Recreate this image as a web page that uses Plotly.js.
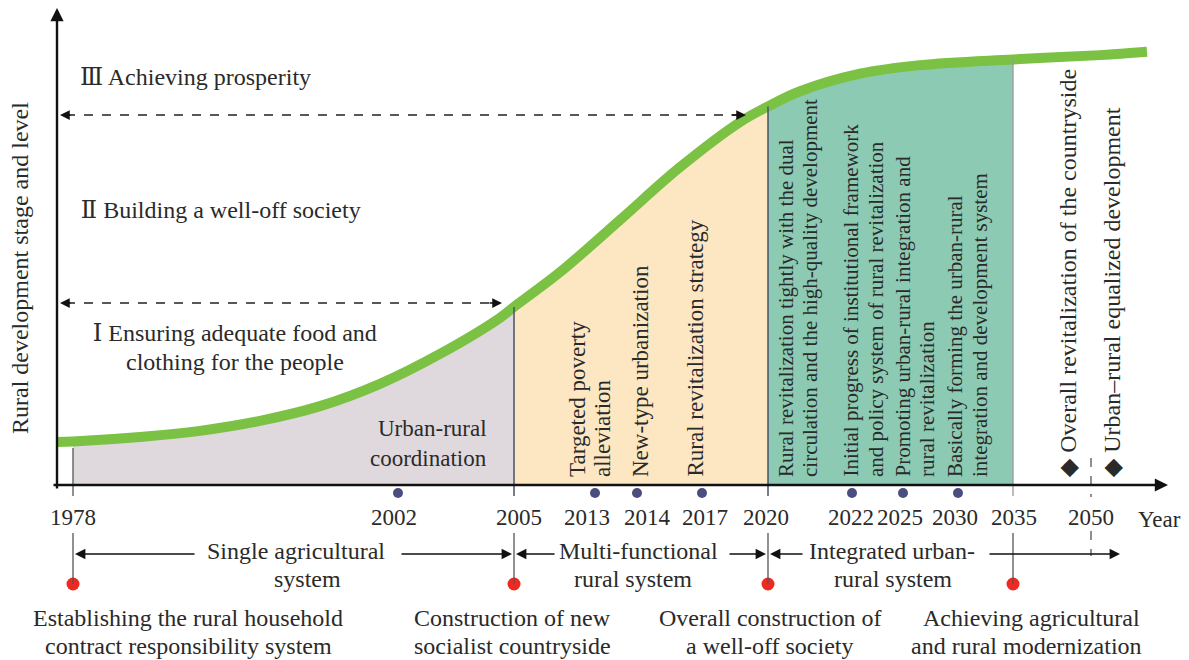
<!DOCTYPE html>
<html><head><meta charset="utf-8">
<script src="https://cdn.plot.ly/plotly-3.0.1.min.js"></script>
<style>html,body{margin:0;padding:0;background:#fff}#chart{width:1189px;height:660px}
#chart svg text{font-family:"Liberation Serif","Times New Roman",Times,"DejaVu Serif",serif !important;}</style>
</head><body><div id="chart"></div>
<script>
// ---- DATA (positions on the non-linear timeline axis, levels in 0-100 "development level") ----
const years        = ['1978','2002','2005','2013','2014','2017','2020','2022','2025','2030','2035','2050'];
const yearLabelPos = [73, 394, 519, 587, 647, 705, 766, 851, 900, 955, 1014, 1091];
const milestoneYears = ['1978','2005','2020','2035'];
const milestonePos   = [73, 514, 768, 1013];
const policyYears  = ['2002','2013','2014','2017','2022','2025','2030'];
const policyPos    = [398, 595, 637, 702, 852, 903, 958];
const futurePos    = 1091; // 2050

const curvePos   = [57, 73, 140, 200, 260, 320, 380, 440, 500, 514, 560, 620, 680, 740, 768, 800, 860, 920, 1013, 1100, 1147];
const curveLevel = [9.05, 9.16, 10.1, 11.4, 13.5, 16.6, 21.3, 27.6, 35.2, 37.5, 44.8, 55.8, 66.9, 76.4, 79.7, 82.9, 86.6, 88.4, 89.6, 90.5, 91.2];

const stageStart  = [73, 514, 768];
const stageEnd    = [514, 768, 1013];
const stageColors = ['#dfd9dd', '#fde7c3', '#8ccab3'];

const stageLevels = ['Ⅰ Ensuring adequate food and', 'Ⅱ Building a well-off society', 'Ⅲ Achieving prosperity'];

// ---- helpers for layout positioning (pixel row -> level units) ----
const PX = 4.75, AXIS_PX = 485;
const L = py => (AXIS_PX - py) / PX;
const SERIF = 'Liberation Serif, Times New Roman, serif';
const TXT = '#2a2a2a';

const traces = [];
// stage fills
for (let s = 0; s < stageStart.length; s++) {
  const xs = [], ys = [];
  curvePos.forEach((p, i) => { if (p >= stageStart[s] && p <= stageEnd[s]) { xs.push(p); ys.push(curveLevel[i]); } });
  traces.push({x: xs, y: ys, type: 'scatter', mode: 'lines', fill: 'tozeroy', fillcolor: stageColors[s],
    line: {width: 0, shape: 'spline', color: stageColors[s]}, hoverinfo: 'skip'});
}
// curve
traces.push({x: curvePos, y: curveLevel, type: 'scatter', mode: 'lines',
  line: {color: '#7bc143', width: 10, shape: 'spline'}, hoverinfo: 'skip'});
// policy dots
traces.push({x: policyPos, y: policyPos.map(() => L(493)), type: 'scatter', mode: 'markers',
  marker: {color: '#4b4d7e', size: 10}, hoverinfo: 'skip'});
// milestone red dots
traces.push({x: milestonePos, y: milestonePos.map(() => L(584)), type: 'scatter', mode: 'markers',
  marker: {color: '#ec2a22', size: 13}, hoverinfo: 'skip'});
// year labels
traces.push({x: yearLabelPos, y: yearLabelPos.map(() => L(519)), text: years, type: 'scatter', mode: 'text',
  textfont: {family: SERIF, size: 23, color: TXT}, textposition: 'middle center', hoverinfo: 'skip'});

const shapes = [];
const vline = (x, y0, y1, color, w, dash) => shapes.push({type: 'line', xref: 'x', yref: 'y', x0: x, x1: x, y0: y0, y1: y1,
  line: {color: color, width: w, dash: dash || 'solid'}});
// stage boundaries from curve to axis
const lvlAt = p => curveLevel[curvePos.indexOf(p)];
vline(milestonePos[0], L(448), L(496), '#555', 1.3);
vline(milestonePos[1], lvlAt(514), L(496), '#4a5068', 1.5);
vline(milestonePos[2], lvlAt(768), L(496), '#4a5068', 1.5);
vline(milestonePos[3], lvlAt(1013), L(496), '#9a9a9a', 1.3);
// lower ticks to milestone dots
milestonePos.forEach(p => vline(p, L(533), L(584), '#555', 1.3));
// 2050 dashed
vline(futurePos, L(458), L(497), '#555', 1.3, 'dash');
vline(futurePos, L(531), L(556), '#555', 1.3, 'dash');
// dashed stage guide lines
shapes.push({type: 'line', xref: 'x', yref: 'y', x0: 66, x1: 740, y0: L(115), y1: L(115), line: {color: '#222', width: 1.5, dash: 'dash'}});
shapes.push({type: 'line', xref: 'x', yref: 'y', x0: 66, x1: 495, y0: L(303), y1: L(303), line: {color: '#222', width: 1.5, dash: 'dash'}});

const ann = [];
const arrow = (x0, y0, x1, y1, w, head, size) => ann.push({x: x1, y: y1, ax: x0, ay: y0, xref: 'x', yref: 'y', axref: 'x', ayref: 'y',
  text: '', showarrow: true, arrowhead: head || 2, arrowsize: size || 1.2, arrowwidth: w || 1.6, arrowcolor: '#111', standoff: 0, startstandoff: 0});
// axes
arrow(57, L(490), 57, L(8), 2.4, 2, 1.1);
arrow(52, 0, 1168, 0, 2.4, 2, 1.1);
// dashed arrow heads
arrow(72, L(115), 60, L(115), 1.5, 2, 1.3);
arrow(730, L(115), 746, L(115), 1.5, 2, 1.3);
arrow(72, L(303), 60, L(303), 1.5, 2, 1.3);
arrow(488, L(303), 502, L(303), 1.5, 2, 1.3);
// system period arrows
const ya = L(554);
arrow(196, ya, 75, ya, 1.6, 2, 1.3);
arrow(400, ya, 512, ya, 1.6, 2, 1.3);
arrow(556, ya, 516, ya, 1.6, 2, 1.3);
arrow(728, ya, 766, ya, 1.6, 2, 1.3);
arrow(804, ya, 770, ya, 1.6, 2, 1.3);
arrow(988, ya, 1120, ya, 1.6, 2, 1.3);

const txt = (t, x, y, o, sz) => ann.push(Object.assign({x: x, y: y, xref: 'x', yref: 'y', text: t, showarrow: false,
  font: {family: SERIF, size: sz || 24, color: TXT}}, o || {}));
// y title
txt('Rural development stage and level', 20, L(268), {textangle: -90}, 24);
txt('Year', 1159, L(519), {}, 23);
// stage levels
txt(stageLevels[2], 81, L(77), {xanchor: 'left'}, 24);
txt(stageLevels[1], 81, L(210), {xanchor: 'left'}, 24);
txt(stageLevels[0], 92, L(333), {xanchor: 'left'}, 24);
txt('clothing for the people', 124, L(362), {xanchor: 'left'}, 24);
// region labels
txt('Urban-rural', 489, L(428), {xanchor: 'right'}, 23);
txt('coordination', 489, L(458), {xanchor: 'right'}, 23);
const vt = (t, x, sz) => txt(t, x, L(479), {textangle: -90, yanchor: 'bottom'}, sz);
vt('Targeted poverty', 577, 23);
vt('alleviation', 602, 23);
vt('New-type urbanization', 640, 23);
vt('Rural revitalization strategy', 695, 23);
vt('Rural revitalization tightly with the dual', 786, 21);
vt('circulation and the high-quality development', 810, 21);
vt('Initial progress of institutional framework', 850, 21);
vt('and policy system of rural revitalization', 876, 21);
vt('Promoting urban-rural integration and', 902, 21);
vt('rural revitalization', 927, 21);
vt('Basically forming the urban-rural', 955, 21);
vt('integration and development system', 980, 21);
vt('◆ Overall revitalization of the countryside', 1068, 24);
vt('◆ Urban–rural equalized development', 1112, 24);
// system names
txt('Single agricultural', 296, L(551));
txt('system', 307, L(579));
txt('Multi-functional', 638, L(551));
txt('rural system', 633, L(579));
txt('Integrated urban-', 892, L(551));
txt('rural system', 893, L(579));
// milestones
txt('Establishing the rural household', 188, L(618));
txt('contract responsibility system', 188, L(646));
txt('Construction of new', 512, L(618));
txt('socialist countryside', 512, L(646));
txt('Overall construction of', 770, L(618));
txt('a well-off society', 770, L(646));
txt('Achieving agricultural', 1031, L(618));
txt('and rural modernization', 1026, L(646));

const layout = {
  width: 1189, height: 660, margin: {l: 0, r: 0, t: 0, b: 0},
  paper_bgcolor: '#fff', plot_bgcolor: '#fff', showlegend: false,
  xaxis: {range: [0, 1189], visible: false, fixedrange: true},
  yaxis: {range: [L(660), L(0)], visible: false, fixedrange: true},
  shapes: shapes, annotations: ann
};
Plotly.newPlot('chart', traces, layout, {displayModeBar: false, staticPlot: true});
</script></body></html>
